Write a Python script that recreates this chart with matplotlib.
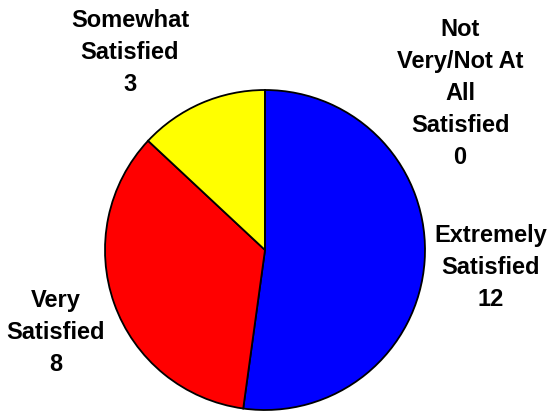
import matplotlib
matplotlib.use("Agg")
import matplotlib.pyplot as plt

labels = ["Extremely\nSatisfied", "Very\nSatisfied", "Somewhat\nSatisfied", "Not\nVery/Not At\nAll\nSatisfied"]
values = [12, 8, 3, 0]
colors = ["#0000FF", "#FF0000", "#FFFF00", "#808080"]

# label centres, in pie units
label_pos = [(1.41, -0.105), (-1.31, -0.51), (-0.844, 1.24), (1.219, 0.985)]

plt.rcParams["font.family"] = ["Liberation Sans", "DejaVu Sans"]

fig = plt.figure(figsize=(5.51, 4.14), dpi=100)
ax = fig.add_axes([105 / 551, 3 / 414, 320 / 551, 320 / 414])

ax.pie(values, colors=colors, startangle=90, counterclock=False,
       wedgeprops=dict(edgecolor="black", linewidth=1.3))
ax.set_xlim(-1, 1)
ax.set_ylim(-1, 1)
ax.set_aspect("equal")
ax.axis("off")

for lab, v, (x, y) in zip(labels, values, label_pos):
    ax.text(x, y, f"{lab}\n{v}", ha="center", va="center", fontsize=17,
            fontweight="bold", linespacing=1.5)

fig.savefig("out.png", dpi=100)
